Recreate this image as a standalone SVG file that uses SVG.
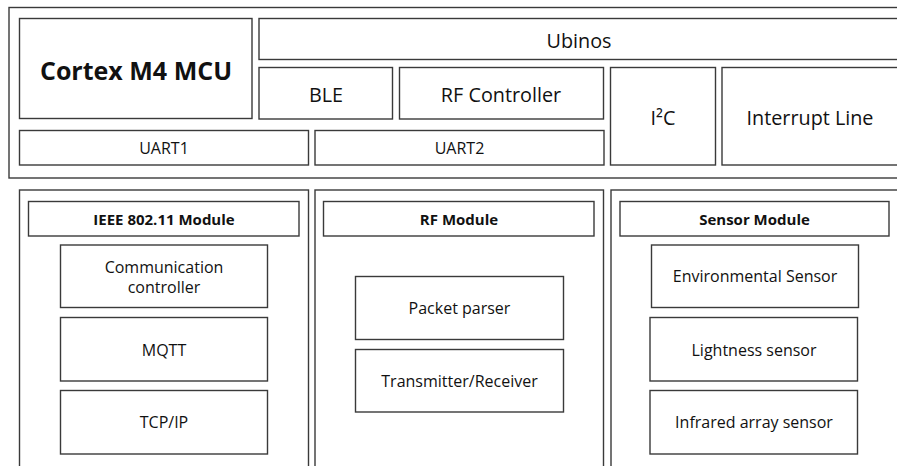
<svg xmlns="http://www.w3.org/2000/svg" width="897" height="466" viewBox="0 0 897 466">
  <style>
    .box { fill: #ffffff; stroke: #3a3a3a; stroke-width: 1.4; }
    text { font-family: "Open Sans", "Noto Sans", "Liberation Sans", sans-serif; fill: #111111; text-anchor: middle; dominant-baseline: central; }
    .big { font-size: 25px; font-weight: bold; }
    .lg { font-size: 19.8px; }
    .md { font-size: 16px; }
    .hd { font-size: 15px; font-weight: bold; }
    .sm { font-size: 16px; }
  </style>
  <rect width="897" height="466" fill="#ffffff"/>

  <!-- Controller board -->
  <g id="board">
    <rect class="box" x="9" y="7.5" width="900" height="170.5"/>
  </g>
  <g id="mcu">
    <rect class="box" x="19.5" y="18.5" width="232.5" height="100"/>
    <text class="big" x="136" y="70">Cortex M4 MCU</text>
  </g>
  <g id="ubinos">
    <rect class="box" x="259" y="18.5" width="640" height="41"/>
    <text class="lg" x="579" y="40">Ubinos</text>
  </g>
  <g id="ble">
    <rect class="box" x="259" y="67.5" width="133.5" height="51.5"/>
    <text class="lg" x="326" y="94">BLE</text>
  </g>
  <g id="rf-controller">
    <rect class="box" x="399.5" y="67.5" width="204" height="51.5"/>
    <text class="lg" x="501" y="94">RF Controller</text>
  </g>
  <g id="i2c">
    <rect class="box" x="610.5" y="67.5" width="105" height="97.5"/>
    <text class="lg" x="663" y="117">I²C</text>
  </g>
  <g id="interrupt-line">
    <rect class="box" x="722" y="67.5" width="177" height="97.5"/>
    <text class="lg" x="810" y="117">Interrupt Line</text>
  </g>
  <g id="uart1">
    <rect class="box" x="19.5" y="130.5" width="289" height="34.5"/>
    <text class="md" x="164" y="148">UART1</text>
  </g>
  <g id="uart2">
    <rect class="box" x="315" y="130.5" width="289" height="34.5"/>
    <text class="md" x="459.5" y="148">UART2</text>
  </g>

  <!-- IEEE 802.11 module -->
  <g id="wifi-module">
    <rect class="box" x="19.5" y="190" width="289" height="290"/>
    <rect class="box" x="28.5" y="201.5" width="270.5" height="34.5"/>
    <text class="hd" x="164" y="219">IEEE 802.11 Module</text>
  </g>
  <g id="comm-controller">
    <rect class="box" x="60.5" y="245" width="207" height="62.5"/>
    <text class="sm" x="164" y="267">Communication</text>
    <text class="sm" x="164" y="287">controller</text>
  </g>
  <g id="mqtt">
    <rect class="box" x="60.5" y="317.5" width="207" height="63.5"/>
    <text class="sm" x="164" y="350">MQTT</text>
  </g>
  <g id="tcpip">
    <rect class="box" x="60.5" y="390.5" width="207" height="63.5"/>
    <text class="sm" x="164" y="422">TCP/IP</text>
  </g>

  <!-- RF module -->
  <g id="rf-module">
    <rect class="box" x="315" y="190" width="288.5" height="290"/>
    <rect class="box" x="323.5" y="201.5" width="270.5" height="34.5"/>
    <text class="hd" x="459" y="219">RF Module</text>
  </g>
  <g id="packet-parser">
    <rect class="box" x="355.5" y="276.5" width="208" height="63"/>
    <text class="sm" x="459.5" y="308">Packet parser</text>
  </g>
  <g id="transceiver">
    <rect class="box" x="355.5" y="349.5" width="208" height="62.5"/>
    <text class="sm" x="459.5" y="381">Transmitter/Receiver</text>
  </g>

  <!-- Sensor module -->
  <g id="sensor-module">
    <rect class="box" x="611" y="190" width="290" height="290"/>
    <rect class="box" x="620" y="201.5" width="269" height="34.5"/>
    <text class="hd" x="754.5" y="219">Sensor Module</text>
  </g>
  <g id="env-sensor">
    <rect class="box" x="651.5" y="245" width="207" height="62.5"/>
    <text class="sm" x="755" y="276">Environmental Sensor</text>
  </g>
  <g id="light-sensor">
    <rect class="box" x="650" y="317.5" width="207.5" height="63.5"/>
    <text class="sm" x="754" y="350">Lightness sensor</text>
  </g>
  <g id="ir-sensor">
    <rect class="box" x="650" y="390.5" width="207.5" height="63.5"/>
    <text class="sm" x="754" y="422">Infrared array sensor</text>
  </g>

  <!-- no connectors in this block diagram -->
  <g id="connectors"></g>
</svg>
